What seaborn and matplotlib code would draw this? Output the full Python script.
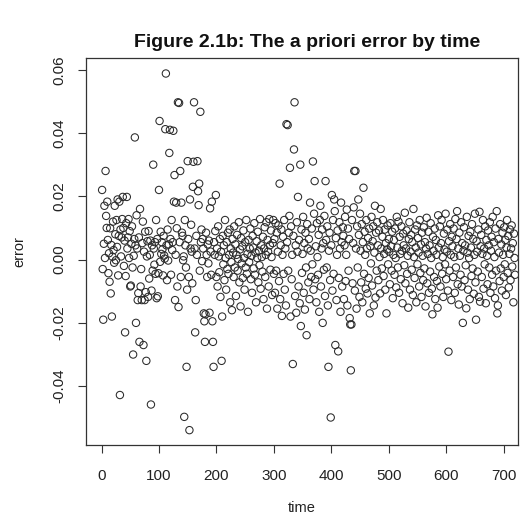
import matplotlib
matplotlib.use("Agg")
import matplotlib.pyplot as plt
import seaborn as sns
import numpy as np
import pandas as pd

# a priori error in time order (one value per time step)
error = [
    0.022, -0.003, -0.019, 0.005, 0.017, 0.0005, 0.028, 0.0138, 0.010, 0.0183,
    0.0062, -0.0043, 0.002, -0.007, 0.0099, -0.0107, 0.0046, -0.018, 0.0009, 0.012,
    0.003, -0.001, 0.017, 0.008, -0.0002, 0.0125, 0.004, 0.019, -0.005, 0.0075,
    0.0183, -0.0428, 0.0095, 0.001, 0.007, 0.0128, 0.0198, 0.010, -0.002, 0.006,
    -0.023, -0.0052, 0.0115, 0.0198, 0.0035, 0.007, 0.0128, 0.0005, 0.009, -0.0085,
    -0.0082, 0.005, 0.0105, -0.0025, -0.030, 0.0012, 0.0065, 0.0386, 0.0045, -0.020,
    0.014, 0.0035, -0.0128, -0.0106, 0.007, -0.026, 0.016, -0.0085, -0.003, -0.0128,
    0.0052, 0.012, -0.027, 0.0025, -0.0128, 0.0088, -0.0103, -0.032, 0.001, 0.0058,
    -0.0118, 0.009, -0.006, 0.0015, 0.006, -0.0458, -0.0098, 0.0045, -0.0035, 0.030,
    0.0035, -0.0016, 0.0055, -0.0045, 0.0125, -0.0122, 0.0065, -0.0116, -0.0043, 0.022,
    0.0438, -0.0007, 0.0088, 0.0018, 0.0055, 0.0032, -0.005, 0.0075, 0.0013, 0.0003,
    0.0412, 0.0588, 0.0045, -0.0065, 0.0095, -0.0003, 0.0048, 0.0337, 0.041, 0.0065,
    -0.0048, 0.0125, 0.003, 0.0055, 0.0407, 0.0183, 0.0267, -0.0128, 0.0015, 0.018,
    0.0099, -0.0085, 0.0497, -0.015, 0.0495, 0.0055, 0.028, -0.0055, 0.018, 0.0085,
    0.0075, -0.0002, 0.001, -0.0497, 0.0125, 0.0045, -0.0025, -0.0339, -0.0095, 0.0311,
    0.0065, -0.0055, -0.0539, 0.019, 0.0035, 0.011, 0.0025, -0.0075, 0.023, 0.0309,
    0.0497, 0.0035, -0.023, -0.0128, 0.0075, 0.0015, 0.0311, 0.0216, 0.0172, 0.024,
    -0.0035, 0.0467, 0.0055, 0.0095, -0.0005, 0.0065, 0.0035, -0.017, -0.0195, -0.026,
    -0.0173, 0.0085, 0.0015, -0.0055, 0.0048, -0.0012, 0.006, -0.0168, 0.0162, 0.0025,
    -0.0048, 0.0183, -0.0195, -0.026, -0.0339, 0.0055, 0.0015, 0.009, 0.0204, -0.0055,
    0.0035, -0.0085, 0.0105, 0.001, -0.004, 0.0065, -0.0118, 0.0025, -0.032, -0.018,
    0.0075, -0.0015, 0.0045, -0.0065, 0.0125, 0.0005, -0.0095, 0.0055, -0.003, 0.0085,
    -0.0045, 0.0015, 0.0095, -0.0135, 0.0035, -0.0008, -0.016, 0.0065, 0.0022, -0.0055,
    0.0105, -0.0025, 0.0048, -0.0115, 0.0015, 0.0078, -0.0035, 0.0002, 0.0118, -0.0072,
    0.0032, -0.0148, 0.0068, -0.0012, 0.0042, -0.0058, 0.0092, 0.0005, -0.0095, 0.0055,
    -0.0025, 0.0125, -0.0045, 0.0018, -0.0165, 0.0062, -0.0008, 0.0035, 0.0098, -0.0062,
    0.0012, -0.0105, 0.0075, 0.0038, -0.0028, 0.0115, -0.0048, 0.0022, -0.0135, 0.0058,
    0.0005, 0.0088, -0.0072, 0.0028, -0.0018, 0.0128, -0.0092, 0.0045, 0.0008, -0.0038,
    0.0072, -0.0125, 0.0035, 0.0102, -0.0055, 0.0015, 0.0118, -0.0155, 0.0062, 0.0025,
    -0.0085, 0.0128, 0.0045, -0.0032, 0.0092, 0.0008, -0.0112, 0.0052, 0.0125, -0.0045,
    0.0065, -0.0105, 0.0115, -0.0035, 0.0085, -0.0155, 0.0025, 0.0108, -0.0068, 0.024,
    -0.0125, 0.0045, 0.0095, -0.0178, 0.0015, 0.0072, -0.0045, 0.0125, -0.0095, 0.0035,
    -0.0145, 0.0428, 0.0055, 0.0425, -0.0035, 0.0085, 0.0138, 0.029, -0.018, 0.0105,
    -0.0062, 0.0015, -0.033, 0.0075, 0.0348, 0.0497, -0.0115, 0.0045, -0.0168, 0.0118,
    0.0025, 0.0198, -0.0085, 0.0062, -0.0138, 0.030, -0.021, 0.0095, -0.0042, 0.0018,
    0.0135, -0.0105, 0.0052, -0.0158, 0.0085, -0.0025, -0.0239, 0.0112, 0.0035, -0.0072,
    0.0065, -0.0125, 0.018, 0.0028, -0.0055, 0.0098, -0.0015, 0.031, -0.0095, 0.0145,
    0.0248, -0.0062, 0.0042, -0.0135, 0.0115, 0.0008, -0.0048, 0.0078, -0.0165, 0.0125,
    0.017, -0.0085, 0.0035, 0.0095, -0.020, 0.0052, -0.0032, 0.0138, -0.0115, 0.0248,
    0.0062, -0.0025, 0.0105, -0.0145, -0.0339, 0.0028, 0.0085, -0.0065, -0.0499, 0.0045,
    0.0204, -0.0098, 0.0125, -0.0045, 0.019, 0.0153, -0.027, 0.0068, -0.0128, 0.0015,
    0.0092, -0.029, -0.0058, 0.0118, 0.0035, -0.0165, 0.018, 0.0055, -0.0085, 0.0102,
    0.0075, -0.0125, 0.0045, 0.0135, -0.0068, 0.0015, 0.0158, -0.0145, 0.0098, -0.0035,
    0.0065, -0.0185, -0.0205, -0.035, -0.0205, 0.0125, -0.0075, 0.0052, 0.0165, 0.028,
    -0.0098, 0.028, 0.0035, -0.0155, 0.0105, -0.0025, 0.019, 0.0078, -0.0118, 0.0145,
    0.0028, -0.0072, 0.0112, -0.0135, 0.0055, 0.0227, -0.0045, 0.0088, 0.0015, -0.0092,
    0.0125, 0.0035, -0.0107, 0.0068, -0.0058, 0.0098, -0.017, 0.0042, -0.0012, 0.0135,
    -0.0082, 0.0058, 0.0105, -0.0145, 0.0022, 0.017, -0.012, 0.0085, -0.0035, 0.0118,
    0.0045, -0.0065, 0.0092, 0.0008, -0.0107, 0.016, 0.0035, -0.0028, 0.0072, 0.0125,
    -0.0052, 0.0018, 0.0095, -0.0095, 0.0052, -0.017, 0.0032, 0.0108, -0.0015, 0.0065,
    0.0025, -0.0078, 0.0115, 0.0042, -0.0035, 0.0088, -0.0122, 0.0015, 0.0062, -0.0048,
    0.0098, 0.0005, -0.0088, 0.0135, 0.0038, -0.0025, 0.012, -0.0105, 0.0072, 0.0018,
    -0.0062, 0.0105, 0.0028, -0.0138, 0.0082, 0.0045, -0.0018, 0.0148, -0.0075, 0.0035,
    0.0092, -0.0045, 0.0012, -0.0152, 0.0065, 0.0118, -0.0095, 0.0025, 0.0078, -0.0032,
    0.0055, -0.0112, 0.016, 0.0008, -0.0058, 0.0095, 0.0038, -0.0135, 0.0108, -0.0015,
    0.0068, 0.0022, -0.0085, 0.0125, -0.0042, 0.0048, -0.0118, 0.0085, 0.0012, -0.0065,
    0.0102, -0.0028, 0.0055, -0.0148, 0.0035, 0.0132, -0.0075, 0.0018, 0.0088, -0.0105,
    0.0045, -0.0038, 0.0115, 0.0005, -0.0092, -0.0173, 0.0072, 0.0028, -0.0055, 0.0098,
    -0.0125, 0.0062, 0.0015, -0.0068, -0.0152, 0.014, 0.0038, -0.0022, 0.0105, -0.0085,
    0.0052, 0.0125, -0.0045, 0.0008, -0.0118, 0.0082, 0.0032, -0.0015, 0.0145, -0.0062,
    0.0025, 0.0095, -0.0098, -0.0291, 0.0058, -0.0035, 0.0112, 0.0015, -0.0128, 0.0072,
    0.0042, -0.0055, 0.0098, 0.0008, -0.0105, 0.0128, -0.0025, 0.0065, 0.0153, -0.0078,
    0.0035, -0.0142, 0.0085, 0.0012, -0.0048, 0.0118, -0.0085, 0.0052, -0.020, 0.0028,
    0.0102, -0.0065, 0.0045, -0.0018, -0.0154, 0.0135, 0.0022, -0.0095, 0.0075, 0.0005,
    -0.0125, 0.0088, 0.0038, -0.0052, 0.0112, -0.0028, 0.0065, -0.0108, 0.0015, 0.0145,
    -0.0072, -0.019, 0.0058, 0.0025, -0.0038, 0.0095, -0.0118, 0.0151, -0.0133, 0.0042,
    0.0078, -0.0055, 0.0018, 0.0125, -0.0092, 0.0035, -0.0015, 0.0105, -0.0138, 0.0062,
    0.0012, -0.0078, 0.0092, 0.0045, -0.0025, 0.0118, -0.0105, 0.0028, 0.0072, -0.0048,
    0.0135, -0.0085, 0.0055, 0.0008, -0.0122, 0.0098, -0.0035, 0.0153, -0.017, -0.0145,
    0.0065, 0.0022, -0.0068, 0.0112, -0.0028, 0.0048, -0.0098, 0.0085, 0.0015, -0.0055,
    0.0102, -0.0015, 0.0062, -0.0112, 0.0038, 0.0125, -0.0042, 0.0075, -0.0088, 0.0018,
    0.0095, -0.0065, 0.0035, 0.0108, -0.0022, 0.0052, -0.0135, 0.0082, 0.0005, -0.0048,
]
time = list(range(1, len(error) + 1))

x_ticks = [0, 100, 200, 300, 400, 500, 600, 700]
y_ticks = [-0.04, -0.02, 0.00, 0.02, 0.04, 0.06]
y_tick_labels = ["-0.04", "-0.02", "0.00", "0.02", "0.04", "0.06"]

df = pd.DataFrame({"time": time, "error": error})

sns.set_style("ticks")
plt.rcParams["font.family"] = ["Liberation Sans", "DejaVu Sans"]

fig = plt.figure(figsize=(5.22, 5.23), dpi=100)
ax = fig.add_axes([0.1648, 0.1491, 0.8275, 0.7400])

sns.scatterplot(data=df, x="time", y="error", ax=ax, marker="o",
                facecolor="none", edgecolor="#2a2a2a", s=28, linewidth=0.75)

ax.set_xlim(-27, 725)
ax.set_ylim(-0.0586, 0.0637)
ax.set_xticks(x_ticks)
ax.set_xticklabels([str(v) for v in x_ticks])
ax.set_yticks(y_ticks)
ax.set_yticklabels(y_tick_labels, rotation=90, va="center")

for sp in ax.spines.values():
    sp.set_visible(True)
    sp.set_color("#333333")
    sp.set_linewidth(0.9)

ax.tick_params(axis="both", direction="out", length=6, width=0.8,
               color="#333333", labelsize=11, labelcolor="#222222")
ax.tick_params(axis="x", pad=11)
ax.tick_params(axis="y", pad=8)

ax.set_xlabel("time", fontsize=10.5, color="#222222", labelpad=13)
ax.set_ylabel("error", fontsize=10.5, color="#222222", labelpad=19)
fig.suptitle("Figure 2.1b: The a priori error by time", fontsize=14,
             fontweight="bold", x=0.588, y=0.935, color="#111111")

fig.savefig("out.png", dpi=100)
